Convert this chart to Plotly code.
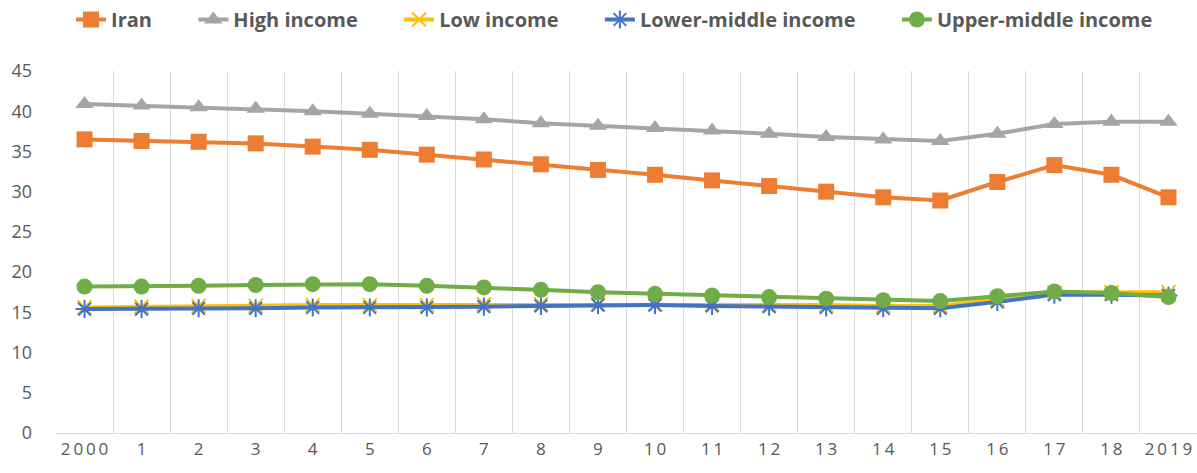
import plotly.graph_objects as go

years = ["2000", "1", "2", "3", "4", "5", "6", "7", "8", "9", "10", "11", "12",
         "13", "14", "15", "16", "17", "18", "2019"]
iran = [36.5, 36.3, 36.2, 36.0, 35.6, 35.2, 34.6, 34.0, 33.4, 32.7, 32.1, 31.4,
        30.7, 30.0, 29.3, 28.9, 31.2, 33.3, 32.1, 29.3]
high_income = [40.9, 40.7, 40.5, 40.3, 40.0, 39.7, 39.4, 39.0, 38.5, 38.2, 37.9,
               37.6, 37.2, 36.8, 36.5, 36.3, 37.2, 38.4, 38.7, 38.7]
low_income = [15.6, 15.7, 15.8, 15.8, 15.9, 15.9, 15.9, 16.0, 16.0, 16.0, 16.0,
              16.0, 15.9, 15.9, 15.8, 15.8, 16.6, 17.4, 17.5, 17.5]
lower_middle = [15.4, 15.4, 15.5, 15.5, 15.6, 15.6, 15.6, 15.7, 15.8, 15.9, 15.9,
                15.8, 15.7, 15.6, 15.5, 15.5, 16.3, 17.2, 17.2, 17.1]
upper_middle = [18.2, 18.2, 18.3, 18.4, 18.5, 18.5, 18.3, 18.1, 17.8, 17.5, 17.3,
                17.1, 16.9, 16.7, 16.5, 16.4, 17.0, 17.6, 17.4, 16.9]

pad = "\u00a0" * 7

fig = go.Figure()
fig.add_trace(go.Scatter(x=years, y=iran, name="<b>Iran</b>" + pad, mode="lines+markers",
                         line=dict(color="#ED7D31", width=4),
                         marker=dict(symbol="square", size=16, color="#ED7D31")))
fig.add_trace(go.Scatter(x=years, y=high_income, name="<b>High income</b>" + pad, mode="lines+markers",
                         line=dict(color="#A5A5A5", width=4),
                         marker=dict(symbol="triangle-up", size=16, color="#A5A5A5")))
fig.add_trace(go.Scatter(x=years, y=low_income, name="<b>Low income</b>" + pad, mode="lines+markers",
                         line=dict(color="#FFC000", width=4),
                         marker=dict(symbol="x-thin-open", size=14,
                                     line=dict(color="#FFC000", width=2))))
fig.add_trace(go.Scatter(x=years, y=lower_middle, name="<b>Lower-middle income</b>" + pad, mode="lines+markers",
                         line=dict(color="#4472C4", width=4),
                         marker=dict(symbol="asterisk-open", size=15,
                                     line=dict(color="#4472C4", width=2))))
fig.add_trace(go.Scatter(x=years, y=upper_middle, name="<b>Upper-middle income</b>", mode="lines+markers",
                         line=dict(color="#70AD47", width=4),
                         marker=dict(symbol="circle", size=16, color="#70AD47")))

tick_text = ["\u2009".join(list(y)) for y in years]

fig.update_layout(
    width=1197, height=473,
    margin=dict(l=56, r=0, t=70, b=40),
    plot_bgcolor="white", paper_bgcolor="white",
    font=dict(family="Open Sans", color="#595959", size=18),
    showlegend=True,
    legend=dict(orientation="h", x=0.4895, xanchor="center", y=1.143, yanchor="middle",
                font=dict(size=20, color="#595959", family="Open Sans"),
                tracegroupgap=0),
)
fig.update_xaxes(type="category", range=[-0.5, 19.5], tickson="boundaries",
                 tickmode="array", tickvals=years, ticktext=tick_text, tickangle=0,
                 showgrid=True, gridcolor="#D9D9D9", gridwidth=1.3,
                 showline=True, linecolor="#D9D9D9", linewidth=1.3,
                 ticks="", tickfont=dict(size=17, color="#595959"))
fig.update_yaxes(range=[0, 45], dtick=5, showgrid=False, zeroline=False,
                 showline=False, ticks="", ticklabelstandoff=23,
                 tickfont=dict(size=18, color="#595959"))

fig.write_html("out.html")
